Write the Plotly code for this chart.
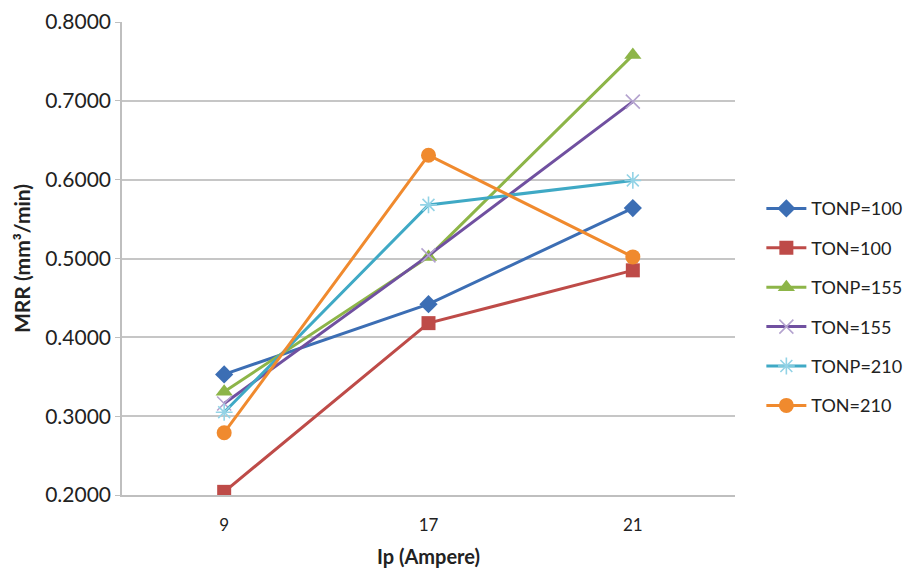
import plotly.graph_objects as go

# Peak current (A) on the category axis
ip_labels = ["9", "17", "21"]

# Material removal rate (mm³/min) for each pulse-on setting
tonp_100 = [0.353, 0.442, 0.564]
ton_100 = [0.204, 0.418, 0.485]
tonp_155 = [0.331, 0.502, 0.758]
ton_155 = [0.316, 0.504, 0.699]
tonp_210 = [0.305, 0.568, 0.599]
ton_210 = [0.279, 0.631, 0.502]

series_names = ["TONP=100", "TON=100", "TONP=155", "TON=155", "TONP=210", "TON=210"]
series_values = [tonp_100, ton_100, tonp_155, ton_155, tonp_210, ton_210]

line_colors = ["#3C6EB4", "#BE4B48", "#8DB548", "#7050A0", "#3FA9C5", "#F08A2E"]
marker_styles = [
    dict(symbol="diamond", size=14, color="#3C6EB4"),
    dict(symbol="square", size=14, color="#BE4B48"),
    dict(symbol="triangle-up", size=15, color="#8DB548"),
    dict(symbol="x-thin-open", size=14, color="#B4A3CF", line=dict(width=1.6, color="#B4A3CF")),
    dict(symbol="asterisk-open", size=14, color="#93D3E6", line=dict(width=1.6, color="#93D3E6")),
    dict(symbol="circle", size=15, color="#F08A2E"),
]

fig = go.Figure()
for i, (name, vals) in enumerate(zip(series_names, series_values)):
    fig.add_trace(go.Scatter(
        x=ip_labels, y=vals, name=name, mode="lines+markers",
        line=dict(color=line_colors[i], width=3),
        marker=marker_styles[i],
        legendgroup=name,
    ))

font_family = "Lato, 'Open Sans', sans-serif"

fig.update_layout(
    width=914, height=571,
    margin=dict(l=122, r=179, t=22, b=76, autoexpand=False),
    paper_bgcolor="white", plot_bgcolor="white",
    font=dict(family=font_family, size=16, color="#222222"),
    showlegend=True,
    legend=dict(
        xref="container", yref="container",
        x=0.833, xanchor="left", y=0.462, yanchor="middle",
        font=dict(size=18, color="#222222"),
        itemwidth=40,
        tracegroupgap=13,
        bgcolor="rgba(0,0,0,0)",
    ),
    xaxis=dict(
        type="category",
        range=[-0.5, 2.5],
        automargin=False,
        showgrid=False,
        showline=True, linecolor="#BFBFBF", linewidth=1.5,
        ticks="", ticklabelstandoff=14,
        tickfont=dict(size=17),
        title=dict(text="<b>Ip (Ampere)</b>", font=dict(size=20), standoff=16),
    ),
    yaxis=dict(
        range=[0.2, 0.8],
        automargin=False,
        dtick=0.1, tickformat=".4f",
        showgrid=True, gridcolor="#C6C6C6", gridwidth=1.5,
        showline=True, linecolor="#BFBFBF", linewidth=1.5,
        ticks="outside", ticklen=5, tickcolor="#BFBFBF",
        zeroline=False,
        tickfont=dict(size=21),
        title=dict(text="<b>MRR (mm³/min)</b>", font=dict(size=21), standoff=9),
    ),
)

fig.write_html("out.html")
